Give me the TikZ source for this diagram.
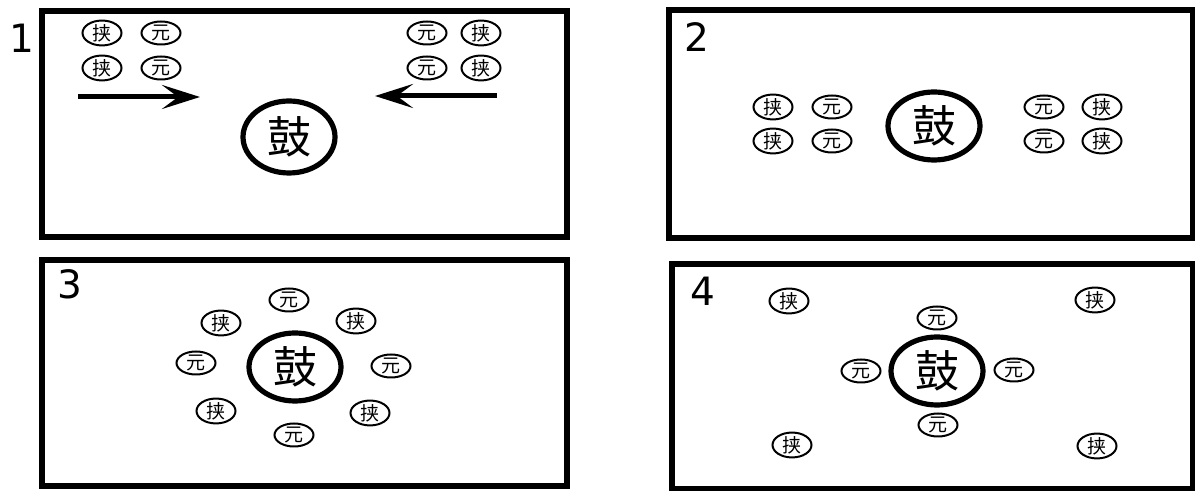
\documentclass[tikz,border=0pt]{standalone}
\usepackage{fontspec}
\newfontfamily\cjk{Noto Sans CJK SC}
\newfontfamily\numfont{DejaVu Sans}
\usetikzlibrary{shapes.geometric,arrows.meta}
\tikzset{
  panel/.style={draw=black,line width=3pt},
  num/.style={font=\numfont\fontsize{19.5}{21}\selectfont,inner sep=0pt},
  small/.style={draw=black,ellipse,line width=1pt,minimum width=19.5pt,minimum height=11.5pt,inner sep=0pt,font=\cjk\fontsize{9.5}{10}\selectfont},
  drum/.style={draw=black,ellipse,line width=2.6pt,minimum width=46pt,minimum height=34pt,inner sep=0pt,font=\cjk\fontsize{22}{24}\selectfont},
  push/.style={line width=2.5pt,-{Stealth[length=19pt,width=12pt,inset=8pt]}}
}
\begin{document}
\begin{tikzpicture}[x=0.5pt,y=-0.5pt]
\useasboundingbox (0,0) rectangle (1195,491);
% panels
\draw[panel] (42,11) rectangle (566.5,237.5);
\draw[panel] (668.5,10.5) rectangle (1192.5,238);
\draw[panel] (42,260.5) rectangle (566.5,486);
\draw[panel] (671.5,264.5) rectangle (1192.5,489);
\node[num] (n1) at (22,38) {1};
\node[num] (n2) at (697,37) {2};
\node[num] (n3) at (70,284) {3};
\node[num] (n4) at (703,291) {4};
% panel 1
\node[small] (a1) at (102,33) {挟};
\node[small] (a2) at (161,33) {元};
\node[small] (a3) at (102,68) {挟};
\node[small] (a4) at (161,68) {元};
\node[small] (a5) at (427,33) {元};
\node[small] (a6) at (481,33) {挟};
\node[small] (a7) at (427,68) {元};
\node[small] (a8) at (481,68) {挟};
\node[drum,minimum height=36pt] (d1) at (289,137) {鼓};
\coordinate (l1) at (78,97);
\coordinate (l2) at (200,97);
\coordinate (r1) at (497,96);
\coordinate (r2) at (375,96);
\draw[push] (l1) -- (l2);
\draw[push] (r1) -- (r2);
% panel 2
\node[small] (b1) at (773,107) {挟};
\node[small] (b2) at (832,107) {元};
\node[small] (b3) at (773,141) {挟};
\node[small] (b4) at (832,141) {元};
\node[small] (b5) at (1044,107) {元};
\node[small] (b6) at (1102,107) {挟};
\node[small] (b7) at (1044,141) {元};
\node[small] (b8) at (1102,141) {挟};
\node[drum] (d2) at (934,126) {鼓};
% panel 3
\node[drum] (d3) at (295,367) {鼓};
\node[small] (c1) at (289,300) {元};
\node[small] (c2) at (221,323) {挟};
\node[small] (c3) at (356,321) {挟};
\node[small] (c4) at (196,363) {元};
\node[small] (c5) at (391,366) {元};
\node[small] (c6) at (216,411) {挟};
\node[small] (c7) at (370,413) {挟};
\node[small] (c8) at (294,435) {元};
% panel 4
\node[drum] (d4) at (937,371) {鼓};
\node[small] (e1) at (789,301) {挟};
\node[small] (e2) at (1095,300) {挟};
\node[small] (e3) at (937,318) {元};
\node[small] (e4) at (861,371) {元};
\node[small] (e5) at (1014,370) {元};
\node[small] (e6) at (938,425) {元};
\node[small] (e7) at (792,445) {挟};
\node[small] (e8) at (1097,446) {挟};
\end{tikzpicture}
\end{document}
